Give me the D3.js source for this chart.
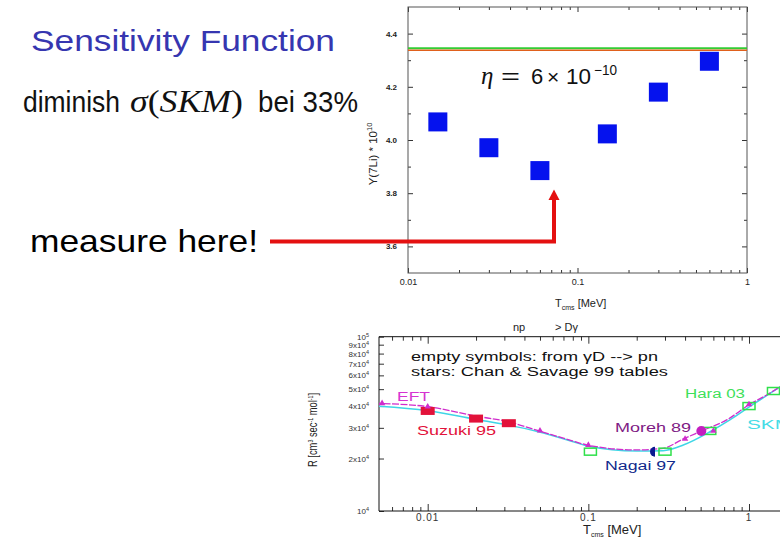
<!DOCTYPE html>
<meta charset="utf-8">
<style>
body{ margin:0; background:#fff; }
text{ font-family:"Liberation Sans", Arial, sans-serif; }
.axis path.domain{ display:none; }
.axis line{ stroke:#333; }
</style>
<svg id="slide" width="780" height="540"></svg>
<script src="https://d3js.org/d3.v7.min.js"></script>
<script>

// ---- top plot: Y(7Li) vs T_cms
var topT = [0.015, 0.03, 0.06, 0.15, 0.3, 0.6];
var topY = [4.068, 3.971, 3.885, 4.023, 4.180, 4.296];
var refGreen = 4.345, refOrange = 4.337;
var yTopMajor = [3.6, 3.8, 4.0, 4.2, 4.4];
var yTopMinor = [3.7, 3.9, 4.1, 4.3];
var xTopMajor = [0.01, 0.1, 1];
var xTopLabels = ["0.01", "0.1", "1"];
var logSteps = [2,3,4,5,6,7,8,9];

// ---- bottom plot: np -> D gamma rate
var eftT = [0.0047, 0.01, 0.0197, 0.0318, 0.0488, 0.0826, 0.0985, 0.2, 0.292, 0.39, 0.507, 0.726, 1.01, 1.29, 1.56];
var eftR = [41500, 39700, 35100, 32500, 28900, 25000, 23900, 22400, 22900, 25900, 28800, 33300, 40900, 46300, 51600];
var skmT = [0.0047, 0.01, 0.0197, 0.0318, 0.0488, 0.0826, 0.0985, 0.2, 0.292, 0.39, 0.572, 0.76, 1.01, 1.35, 1.56];
var skmR = [40000, 37600, 33600, 31100, 28500, 24800, 23600, 22100, 22200, 23900, 28500, 33300, 39700, 47300, 51600];
var suzukiT = [0.01, 0.02, 0.032];
var suzukiR = [37500, 33900, 31900];
var starT = [0.0052, 0.01, 0.05, 0.1, 0.4, 0.6, 1.0];
var starR = [41500, 39700, 28900, 23900, 25900, 28800, 40900];
var emptyT = [0.103, 0.30, 0.57, 1.0, 1.42];
var emptyR = [21900, 21900, 28800, 40000, 48800];
var nagaiT = [0.26], nagaiR = [21900];
var morehT = [0.505], morehR = [28800];
var yBotTicks = [1e4,2e4,3e4,4e4,5e4,6e4,7e4,8e4,9e4,1e5];
var yBotMant = ["", "2x", "3x", "4x", "5x", "6x", "7x", "8x", "9x", ""];
var yBotExp = ["4", "4", "4", "4", "4", "4", "4", "4", "4", "5"];

var svg = d3.select("#slide");
svg.append("rect").attr("width",780).attr("height",540).attr("fill","#fff");

// slide text
svg.append("text")
    .attr("x",31).attr("y",51)
    .attr("fill","#3636b0")
    .style("font-size","29px")
    .attr("textLength",304).attr("lengthAdjust","spacingAndGlyphs")
    .text("Sensitivity Function");

svg.append("text").attr("x",23).attr("y",112).style("font-size","29px").attr("fill","#111")
    .attr("textLength",97).attr("lengthAdjust","spacingAndGlyphs")
    .text("diminish");
var sig = svg.append("text").attr("x",130).attr("y",112).attr("fill","#111")
    .style("font-family","'Liberation Serif', 'DejaVu Serif', serif").style("font-size","31px")
    .attr("textLength",113).attr("lengthAdjust","spacingAndGlyphs");
sig.append("tspan").style("font-style","italic").text("σ");
sig.append("tspan").text("(");
sig.append("tspan").style("font-style","italic").text("SKM");
sig.append("tspan").text(")");
svg.append("text").attr("x",258).attr("y",112).style("font-size","29px").attr("fill","#111")
    .attr("textLength",100).attr("lengthAdjust","spacingAndGlyphs")
    .text("bei 33%");

svg.append("text")
    .attr("x",30).attr("y",252)
    .style("font-size","32px")
    .attr("fill","#000")
    .attr("textLength",228).attr("lengthAdjust","spacingAndGlyphs")
    .text("measure here!");

// ---------- top plot
var xTop = d3.scaleLog().domain([0.01,1]).range([408,747]);
var yTop = d3.scaleLinear().domain([3.5,4.5]).range([273,7]);

var xTopMinor = [];
[0.01,0.1].forEach(function(dec){ logSteps.forEach(function(s){ xTopMinor.push(s*dec); }); });

var gTop = svg.append("g");
gTop.append("g").attr("class","axis").attr("transform","translate(408,0)")
    .call(d3.axisLeft(yTop).tickValues(yTopMajor).tickSize(-5).tickPadding(11).tickFormat(d3.format(".1f")))
    .selectAll("text").style("font-size","8px").style("font-weight","bold").attr("fill","#222");
gTop.append("g").attr("class","axis").attr("transform","translate(408,0)")
    .call(d3.axisLeft(yTop).tickValues(yTopMinor).tickSize(-3).tickFormat(""));
gTop.append("g").attr("class","axis").attr("transform","translate(747,0)")
    .call(d3.axisRight(yTop).tickValues(yTopMajor).tickSize(-5).tickFormat(""));
gTop.append("g").attr("class","axis").attr("transform","translate(747,0)")
    .call(d3.axisRight(yTop).tickValues(yTopMinor).tickSize(-3).tickFormat(""));
gTop.append("g").attr("class","axis").attr("transform","translate(0,273)")
    .call(d3.axisBottom(xTop).tickValues(xTopMajor).tickSize(-5).tickPadding(6).tickFormat(function(d,i){ return xTopLabels[i]; }))
    .selectAll("text").style("font-size","9px").attr("fill","#222");
gTop.append("g").attr("class","axis").attr("transform","translate(0,273)")
    .call(d3.axisBottom(xTop).tickValues(xTopMinor).tickSize(-3).tickFormat(""));
gTop.append("g").attr("class","axis").attr("transform","translate(0,7)")
    .call(d3.axisTop(xTop).tickValues(xTopMajor).tickSize(-5).tickFormat(""));
gTop.append("g").attr("class","axis").attr("transform","translate(0,7)")
    .call(d3.axisTop(xTop).tickValues(xTopMinor).tickSize(-3).tickFormat(""));

gTop.append("rect")
    .attr("x",408).attr("y",7).attr("width",339).attr("height",266)
    .attr("fill","none").attr("stroke","#555").attr("stroke-width",1);

gTop.append("line")
    .attr("x1",xTop(0.01)).attr("x2",xTop(1))
    .attr("y1",yTop(refGreen)).attr("y2",yTop(refGreen))
    .attr("stroke","#33cc33").attr("stroke-width",2);
gTop.append("line")
    .attr("x1",xTop(0.01)).attr("x2",xTop(1))
    .attr("y1",yTop(refOrange)).attr("y2",yTop(refOrange))
    .attr("stroke","#e0601c").attr("stroke-width",1.5);

gTop.selectAll(".sq")
    .data(topT)
  .enter().append("rect")
    .attr("class","sq")
    .attr("x",function(d){ return xTop(d)-9.5; })
    .attr("y",function(d,i){ return yTop(topY[i])-9.5; })
    .attr("width",19).attr("height",19)
    .attr("fill","#0512ee");

// eta = 6 x 10^-10, pieces placed like the LaTeX image
var etaY = 84;
gTop.append("text").attr("x",481).attr("y",etaY).attr("fill","#111")
    .style("font-family","'Liberation Serif', serif").style("font-style","italic").style("font-size","25px").text("η");
gTop.append("text").attr("x",501).attr("y",etaY).attr("fill","#111").style("font-size","22px")
    .attr("textLength",19).attr("lengthAdjust","spacingAndGlyphs").text("=");
gTop.append("text").attr("x",531).attr("y",etaY).attr("fill","#111").style("font-size","22px").text("6");
gTop.append("text").attr("x",547).attr("y",etaY).attr("fill","#111").style("font-size","21px").text("×");
gTop.append("text").attr("x",566).attr("y",etaY).attr("fill","#111").style("font-size","22px")
    .attr("textLength",25).attr("lengthAdjust","spacingAndGlyphs").text("10");
gTop.append("text").attr("x",594).attr("y",etaY-9).attr("fill","#111").style("font-size","14px")
    .attr("textLength",23).attr("lengthAdjust","spacingAndGlyphs").text("−10");

var yl = gTop.append("text")
    .attr("transform","translate(377,154) rotate(-90)")
    .attr("text-anchor","middle")
    .style("font-size","11.5px").attr("fill","#222");
yl.append("tspan").text("Y(7Li) * 10");
yl.append("tspan").attr("dy",-5).style("font-size","7.5px").text("10");

var xl = gTop.append("text").attr("x",555).attr("y",307).style("font-size","11px").attr("fill","#222");
xl.append("tspan").text("T");
xl.append("tspan").attr("dy",3).style("font-size","7px").text("cms");
xl.append("tspan").attr("dy",-3).text(" [MeV]");

// red arrow
svg.append("path")
    .attr("d","M270,241.5 H554 V199")
    .attr("fill","none").attr("stroke","#e41010").attr("stroke-width",4);
svg.append("path")
    .attr("d","M548.5,200 L554,189.5 L559.5,200 Z")
    .attr("fill","#e41010");

// ---------- bottom plot
var xBot = d3.scaleLog().domain([0.01,1]).range([427.7,749]);
var yBot = d3.scaleLog().domain([1e4,1e5]).range([511,336.7]);
var xBotMajor = [0.01, 0.1, 1];
var xBotMinor = [];
[0.001,0.01,0.1,1].forEach(function(dec){ logSteps.forEach(function(s){ xBotMinor.push(s*dec); }); });
xBotMinor = xBotMinor.filter(function(d){ return d > 0.005 && d < 2.5; });

var gBot = svg.append("g");
svg.append("clipPath").attr("id","botClip")
  .append("rect").attr("x",379).attr("y",336.7).attr("width",420).attr("height",174.3);

gBot.append("g").attr("class","axis").attr("transform","translate(379,0)")
    .call(d3.axisLeft(yBot).tickValues(yBotTicks).tickSize(-5).tickFormat(""));
gBot.append("g").attr("class","axis").attr("transform","translate(0,511)")
    .call(d3.axisBottom(xBot).tickValues(xBotMajor).tickSize(-7).tickFormat(""));
gBot.append("g").attr("class","axis").attr("transform","translate(0,511)")
    .call(d3.axisBottom(xBot).tickValues(xBotMinor).tickSize(-4).tickFormat(""));
gBot.append("g").attr("class","axis").attr("transform","translate(0,336.7)")
    .call(d3.axisTop(xBot).tickValues(xBotMajor).tickSize(-7).tickFormat(""));
gBot.append("g").attr("class","axis").attr("transform","translate(0,336.7)")
    .call(d3.axisTop(xBot).tickValues(xBotMinor).tickSize(-4).tickFormat(""));

gBot.append("path")
    .attr("d","M379,336.7 V511 H800 M379,336.7 H800")
    .attr("fill","none").attr("stroke","#111").attr("stroke-width",1);

// y tick labels with superscripts
var ylab = gBot.selectAll(".ylab")
    .data(yBotTicks)
  .enter().append("text")
    .attr("class","ylab")
    .attr("x",369)
    .attr("y",function(d){ return yBot(d)+3; })
    .attr("text-anchor","end")
    .style("font-size","8px").attr("fill","#333");
ylab.append("tspan").text(function(d,i){ return yBotMant[i] + "10"; });
ylab.append("tspan").attr("dy",-3).style("font-size","5.5px").text(function(d,i){ return yBotExp[i]; });

gBot.selectAll(".xlab")
    .data(xBotMajor)
  .enter().append("text")
    .attr("class","xlab")
    .attr("x",function(d){ return xBot(d); })
    .attr("y",521)
    .attr("text-anchor","middle")
    .style("font-size","10px").style("letter-spacing","1px").attr("fill","#333")
    .text(function(d,i){ return xTopLabels[i]; });

var plot = gBot.append("g").attr("clip-path","url(#botClip)");
var line = d3.line()
    .x(function(d){ return xBot(d[0]); })
    .y(function(d){ return yBot(d[1]); })
    .curve(d3.curveMonotoneX);

plot.append("path")
    .datum(skmT.map(function(t,i){ return [t, skmR[i]]; }))
    .attr("d",line).attr("fill","none").attr("stroke","#3fd6e6").attr("stroke-width",1.5);
plot.append("path")
    .datum(eftT.map(function(t,i){ return [t, eftR[i]]; }))
    .attr("d",line).attr("fill","none").attr("stroke","#d02ccc").attr("stroke-width",1.3)
    .attr("stroke-dasharray","7,1.5");

plot.selectAll(".suz")
    .data(suzukiT)
  .enter().append("rect")
    .attr("class","suz")
    .attr("x",function(d){ return xBot(d)-7; })
    .attr("y",function(d,i){ return yBot(suzukiR[i])-4; })
    .attr("width",14).attr("height",8)
    .attr("fill","#e2123a");

plot.selectAll(".emp")
    .data(emptyT)
  .enter().append("rect")
    .attr("class","emp")
    .attr("x",function(d){ return xBot(d)-6; })
    .attr("y",function(d,i){ return yBot(emptyR[i])-3.5; })
    .attr("width",12).attr("height",7)
    .attr("fill","none").attr("stroke","#2fe04a").attr("stroke-width",1.5);

plot.selectAll(".star")
    .data(starT)
  .enter().append("path")
    .attr("class","star")
    .attr("transform",function(d,i){ return "translate(" + xBot(d) + "," + yBot(starR[i]) + ")"; })
    .attr("d",d3.symbol().type(d3.symbolTriangle).size(18))
    .attr("fill","#d02ccc");

plot.selectAll(".moreh")
    .data(morehT)
  .enter().append("circle")
    .attr("cx",function(d){ return xBot(d); })
    .attr("cy",function(d,i){ return yBot(morehR[i]); })
    .attr("r",5).attr("fill","#c41ec0");

plot.selectAll(".nagai")
    .data(nagaiT)
  .enter().append("path")
    .attr("transform",function(d,i){ return "translate(" + xBot(d) + "," + yBot(nagaiR[i]) + ")"; })
    .attr("d",d3.arc().innerRadius(0).outerRadius(5).startAngle(Math.PI).endAngle(2*Math.PI))
    .attr("fill","#0a1a90");

// bottom text
gBot.append("text").attr("x",513).attr("y",331).style("font-size","11px").attr("fill","#222").text("np");
gBot.append("text").attr("x",555).attr("y",331).style("font-size","11px").attr("fill","#222").text("> Dγ");

gBot.append("text").attr("x",411).attr("y",361).style("font-size","12px").attr("fill","#111")
    .attr("textLength",247).attr("lengthAdjust","spacingAndGlyphs")
    .text("empty symbols: from γD --> pn");
gBot.append("text").attr("x",411).attr("y",376).style("font-size","12px").attr("fill","#111")
    .attr("textLength",257).attr("lengthAdjust","spacingAndGlyphs")
    .text("stars: Chan & Savage 99 tables");

function tag(x, y, w, col, s){
  gBot.append("text").attr("x",x).attr("y",y).style("font-size","12px").attr("fill",col)
      .attr("textLength",w).attr("lengthAdjust","spacingAndGlyphs").text(s);
}
tag(397, 401, 33, "#d633d0", "EFT");
tag(417, 435, 79, "#e2123a", "Suzuki 95");
tag(615, 432, 76, "#7e1a84", "Moreh 89");
tag(605, 470, 71, "#102a8c", "Nagai 97");
tag(685, 398, 60, "#3ee05a", "Hara 03");
tag(747, 429, 45, "#45dce6", "SKM");

var bxl = gBot.append("text").attr("x",583).attr("y",534).style("font-size","13px").attr("fill","#222");
bxl.append("tspan").text("T");
bxl.append("tspan").attr("dy",3).style("font-size","7px").text("cms");
bxl.append("tspan").attr("dy",-3).text(" [MeV]");

var byl = gBot.append("text")
    .attr("transform","translate(317,430) rotate(-90)")
    .attr("text-anchor","middle")
    .style("font-size","12.5px").attr("fill","#222")
    .attr("textLength",74).attr("lengthAdjust","spacingAndGlyphs");
byl.append("tspan").text("R [cm");
byl.append("tspan").attr("dy",-4).style("font-size","7px").text("3");
byl.append("tspan").attr("dy",4).text(" sec");
byl.append("tspan").attr("dy",-4).style("font-size","7px").text("-1");
byl.append("tspan").attr("dy",4).text(" mol");
byl.append("tspan").attr("dy",-4).style("font-size","7px").text("-1");
byl.append("tspan").attr("dy",4).text("]");

</script>
